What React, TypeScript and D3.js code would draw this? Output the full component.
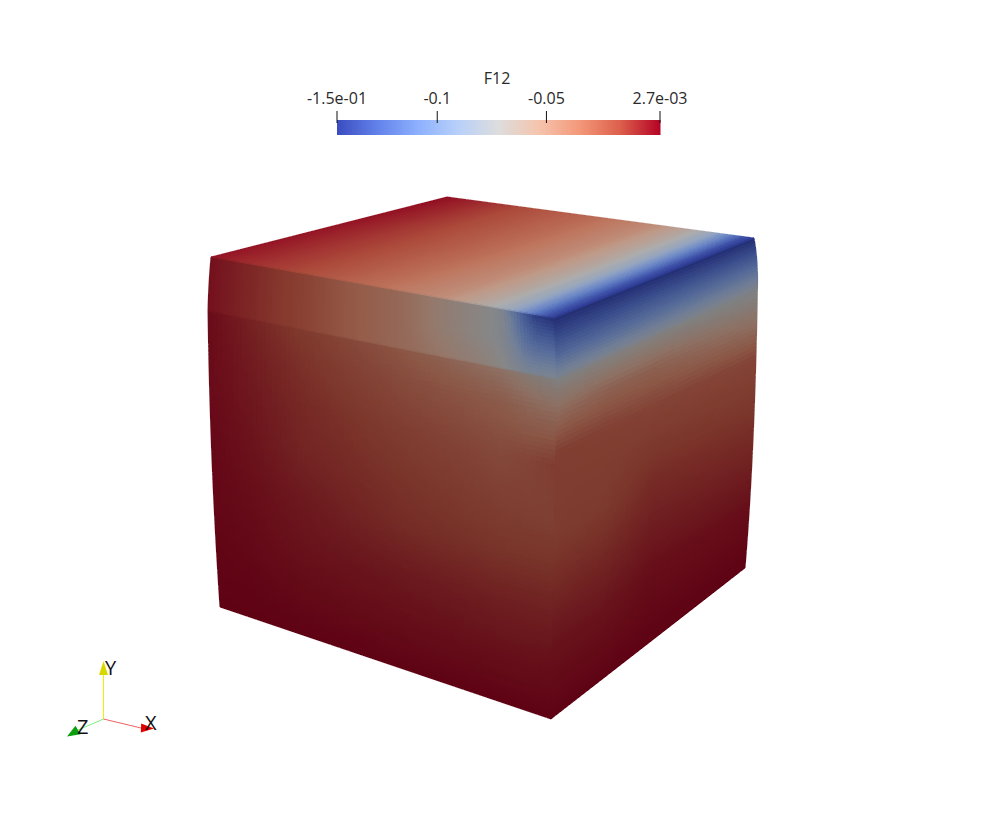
import React, { useMemo } from "react";
import * as d3 from "d3";

// ---------- data: F12 field ----------
const fieldTitle = "F12";
const fieldMin = -0.1459;
const fieldMax = 0.002;
const tickValues = [-0.1, -0.05];
const tickLabels = ["-0.1", "-0.05"];
const minLabel = "-1.5e-01";
const maxLabel = "2.7e-03";

// cool-to-warm colour map: stops in normalised position along the bar, and colours
const mapStops = [0, 0.125, 0.25, 0.375, 0.5, 0.625, 0.75, 0.875, 1];
const mapColors = ["#3b4cc0", "#6282ea", "#8db0fe", "#b8d0f9", "#dddddd", "#f5c4ad", "#f4987a", "#dd604c", "#b40426"];

// Field levels below are positions along the colour bar (0 = minimum, 1 = maximum).
// top face: u from the left-back edge to the front-right edge; v from front edge to back edge
const topU = [0, 0.1, 0.26, 0.49, 0.67, 0.8, 0.87, 0.93, 0.97, 1];
const topV = [0, 0.5, 1];
const topLevels = [
  [0.97, 0.93, 0.875, 0.77, 0.67, 0.53, 0.42, 0.22, 0.08, 0.0],
  [0.97, 0.93, 0.875, 0.78, 0.68, 0.54, 0.42, 0.22, 0.07, 0.0],
  [0.98, 0.94, 0.87, 0.78, 0.68, 0.53, 0.4, 0.2, 0.06, 0.0],
];

// upper band of the left side: u left to right; v top to bottom
const bandLeftU = [0, 0.115, 0.26, 0.4, 0.55, 0.69, 0.81, 0.85, 0.875, 0.91, 0.945, 1];
const bandLeftV = [0, 0.5, 1];
const bandLeftLevels = [
  [0.97, 0.92, 0.86, 0.77, 0.7, 0.58, 0.5, 0.45, 0.32, 0.17, 0.05, 0.0],
  [0.97, 0.92, 0.86, 0.77, 0.7, 0.58, 0.5, 0.46, 0.4, 0.28, 0.23, 0.22],
  [0.97, 0.92, 0.86, 0.77, 0.7, 0.62, 0.55, 0.5, 0.47, 0.44, 0.43, 0.45],
];

// upper band of the right side
const bandRightU = [0, 0.5, 1];
const bandRightV = [0, 0.3, 0.65, 1];
const bandRightLevels = [
  [0.0, 0.0, 0.0],
  [0.1, 0.12, 0.12],
  [0.25, 0.27, 0.28],
  [0.45, 0.46, 0.46],
];

// lower left side
const lowerLeftU = [0, 0.115, 0.26, 0.55, 0.84, 0.93, 1];
const lowerLeftV = [0, 0.1, 0.25, 0.4, 0.55, 0.7, 0.85, 1];
const lowerLeftLevels = [
  [0.98, 0.93, 0.87, 0.76, 0.62, 0.54, 0.5],
  [0.98, 0.94, 0.89, 0.8, 0.73, 0.68, 0.66],
  [0.98, 0.95, 0.91, 0.85, 0.8, 0.82, 0.85],
  [0.985, 0.96, 0.92, 0.88, 0.84, 0.83, 0.83],
  [0.99, 0.97, 0.945, 0.9, 0.88, 0.88, 0.88],
  [0.99, 0.98, 0.96, 0.945, 0.93, 0.93, 0.93],
  [0.995, 0.99, 0.98, 0.97, 0.965, 0.965, 0.97],
  [1, 1, 1, 1, 1, 1, 1],
];

// lower right side
const lowerRightU = [0, 0.25, 0.5, 1];
const lowerRightV = [0, 0.1, 0.22, 0.45, 0.75, 1];
const lowerRightLevels = [
  [0.5, 0.5, 0.5, 0.47],
  [0.66, 0.7, 0.7, 0.62],
  [0.85, 0.84, 0.83, 0.82],
  [0.85, 0.86, 0.9, 0.89],
  [0.95, 0.95, 0.97, 0.97],
  [1, 1, 1, 1],
];

// ---------- layout ----------
type P = [number, number];
const W = 981;
const H = 822;
const corner = {
  L: [211, 257] as P,
  B: [447, 197] as P,
  R: [754, 238] as P,
  F: [554, 318] as P,
  LM: [208, 311] as P,
  FM: [557, 379] as P,
  RM: [757.5, 288] as P,
  LB: [220, 607] as P,
  FB: [551, 719] as P,
  RB: [745, 568] as P,
};
const mid = (a: P, b: P): P => [(a[0] + b[0]) / 2, (a[1] + b[1]) / 2];
const faces = [
  { name: "lowerLeft", us: lowerLeftU, vs: lowerLeftV, f: lowerLeftLevels, shade: [0.575, 0.525], nu: 72, nv: 72, a: [corner.LM, [212, 460], corner.LB], b: [corner.FM, [554, 550], corner.FB] },
  { name: "lowerRight", us: lowerRightU, vs: lowerRightV, f: lowerRightLevels, shade: [0.58, 0.525], nu: 44, nv: 72, a: [corner.FM, [554, 550], corner.FB], b: [corner.RM, [753, 440], corner.RB] },
  { name: "bandLeft", us: bandLeftU, vs: bandLeftV, f: bandLeftLevels, shade: [0.61, 0.61], nu: 110, nv: 18, a: [corner.L, [209, 284], corner.LM], b: [corner.F, mid(corner.F, corner.FM), corner.FM] },
  { name: "bandRight", us: bandRightU, vs: bandRightV, f: bandRightLevels, shade: [0.6, 0.6], nu: 40, nv: 18, a: [corner.F, mid(corner.F, corner.FM), corner.FM], b: [corner.R, [757, 262], corner.RM] },
  { name: "top", us: topU, vs: topV, f: topLevels, shade: [0.78, 0.78], nu: 110, nv: 50, a: [corner.L, mid(corner.L, corner.B), corner.B], b: [corner.F, mid(corner.F, corner.R), corner.R] },
];

const colorMap = d3.scaleLinear<string>().domain(mapStops).range(mapColors).interpolate(d3.interpolateRgb);

const shaded = (level: number, shade: number) => {
  const c = d3.rgb(colorMap(level));
  return `rgb(${Math.round(c.r * shade)},${Math.round(c.g * shade)},${Math.round(c.b * shade)})`;
};

function facePaths(face: (typeof faces)[number]) {
  const curve = (p0: number, p1: number, p2: number, v: number) =>
    p0 * (1 - v) * (1 - 2 * v) + 4 * p1 * v * (1 - v) + p2 * v * (2 * v - 1);
  const pos = (u: number, v: number): P => {
    const x0 = curve(face.a[0][0], face.a[1][0], face.a[2][0], v);
    const y0 = curve(face.a[0][1], face.a[1][1], face.a[2][1], v);
    const x1 = curve(face.b[0][0], face.b[1][0], face.b[2][0], v);
    const y1 = curve(face.b[0][1], face.b[1][1], face.b[2][1], v);
    return [x0 + (x1 - x0) * u, y0 + (y1 - y0) * u];
  };
  const rows = face.f.map((row) => d3.scaleLinear().domain(face.us).range(row));
  const shadeAt = d3.scaleLinear().domain([0, 1]).range(face.shade);
  const value = (u: number, v: number) =>
    d3.scaleLinear().domain(face.vs).range(rows.map((r) => r(u)))(v);
  const line = d3.line();
  const cells: { d: string; c: string }[] = [];
  const edges: { d: string; c: string }[] = [];
  for (let i = 0; i < face.nu; i++) {
    for (let j = 0; j < face.nv; j++) {
      const u0 = i / face.nu, u1 = (i + 1) / face.nu, v0 = j / face.nv, v1 = (j + 1) / face.nv;
      const vm = (v0 + v1) / 2;
      const c = shaded(value((u0 + u1) / 2, vm), shadeAt(vm));
      cells.push({ d: line([pos(u0, v0), pos(u1, v0), pos(u1, v1), pos(u0, v1)]) + "Z", c });
      if (j === 0) edges.push({ d: line([pos(u0, v0), pos(u1, v0)])!, c });
      if (j === face.nv - 1) edges.push({ d: line([pos(u0, v1), pos(u1, v1)])!, c });
      if (i === 0) edges.push({ d: line([pos(u0, v0), pos(u0, v1)])!, c });
      if (i === face.nu - 1) edges.push({ d: line([pos(u1, v0), pos(u1, v1)])!, c });
    }
  }
  // plain underlay of the whole face, so that no pixel can fall between two cells
  const outline = line([pos(0, 0), pos(1, 0), pos(1, 0.5), pos(1, 1), pos(0, 1), pos(0, 0.5)]) + "Z";
  const under = shaded(value(0.5, 0.5), shadeAt(0.5));
  return { name: face.name, cells, edges, outline, under };
}

const barLeft = 337;
const barRight = 660;
const barTop = 120;
const barBottom = 135;
const FONT = "'Open Sans', sans-serif";

function Legend() {
  const x = d3.scaleLinear().domain([fieldMin, fieldMax]).range([barLeft, barRight]);
  const level = d3.scaleLinear().domain([barLeft, barRight]).range([0, 1]);
  const steps = d3.range(barLeft, barRight);
  const ticks = [
    { v: fieldMin, label: minLabel },
    { v: tickValues[0], label: tickLabels[0] },
    { v: tickValues[1], label: tickLabels[1] },
    { v: fieldMax, label: maxLabel },
  ];
  return (
    <g>
      {steps.map((px) => (
        <rect key={px} x={px} y={barTop} width={1.5} height={barBottom - barTop} fill={colorMap(level(px + 0.5))} />
      ))}
      {ticks.map((t) => (
        <g key={t.label}>
          <line x1={x(t.v)} x2={x(t.v)} y1={111} y2={123} stroke="#111" strokeWidth={1} />
          <text x={x(t.v)} y={104} textAnchor="middle" fontFamily={FONT} fontSize={16} fill="#2a2a2a">{t.label}</text>
        </g>
      ))}
      <text x={497} y={84} textAnchor="middle" fontFamily={FONT} fontSize={16} fill="#2a2a2a">{fieldTitle}</text>
    </g>
  );
}

function Triad() {
  const o: P = [103.5, 719];
  const axes = [
    { label: "Y", tip: [103.5, 661] as P, base: [103.5, 675] as P, w: 4.5, line: "#f0f000", cone: "#d8d800", lx: 105, ly: 675 },
    { label: "Z", tip: [67, 736.5] as P, base: [78, 730] as P, w: 5, line: "#7cf07c", cone: "#0a9f0a", lx: 77, ly: 734 },
    { label: "X", tip: [154, 728.5] as P, base: [141, 728] as P, w: 4.5, line: "#f06060", cone: "#e00000", lx: 145, ly: 730 },
  ];
  return (
    <g>
      {axes.map((a) => {
        const dx = a.tip[0] - a.base[0], dy = a.tip[1] - a.base[1];
        const len = Math.hypot(dx, dy);
        const nx = (-dy / len) * a.w, ny = (dx / len) * a.w;
        return (
          <g key={a.label}>
            <line x1={o[0]} y1={o[1]} x2={a.base[0]} y2={a.base[1]} stroke={a.line} strokeWidth={1} />
            <path d={`M${a.tip}L${a.base[0] + nx},${a.base[1] + ny}L${a.base[0] - nx},${a.base[1] - ny}Z`} fill={a.cone} />
            <text x={a.lx} y={a.ly} fontFamily={FONT} fontSize={20} fill="#111">{a.label}</text>
          </g>
        );
      })}
    </g>
  );
}

export default function App() {
  const meshes = useMemo(() => faces.map(facePaths), []);
  return (
    <svg width={W} height={H} style={{ position: "absolute", left: 0, top: 0, display: "block", background: "#fff" }}>
      <g shapeRendering="crispEdges">
        {meshes.map((f) => (
          <g key={f.name}>
            <path d={f.outline} fill={f.under} />
            {f.cells.map((p, i) => (
              <path key={i} d={p.d} fill={p.c} />
            ))}
          </g>
        ))}
      </g>
      <g fill="none" strokeWidth={0.9}>
        {meshes.map((f) => (
          <g key={f.name}>
            {f.edges.map((p, i) => (
              <path key={i} d={p.d} stroke={p.c} />
            ))}
          </g>
        ))}
      </g>
      <Legend />
      <Triad />
    </svg>
  );
}
